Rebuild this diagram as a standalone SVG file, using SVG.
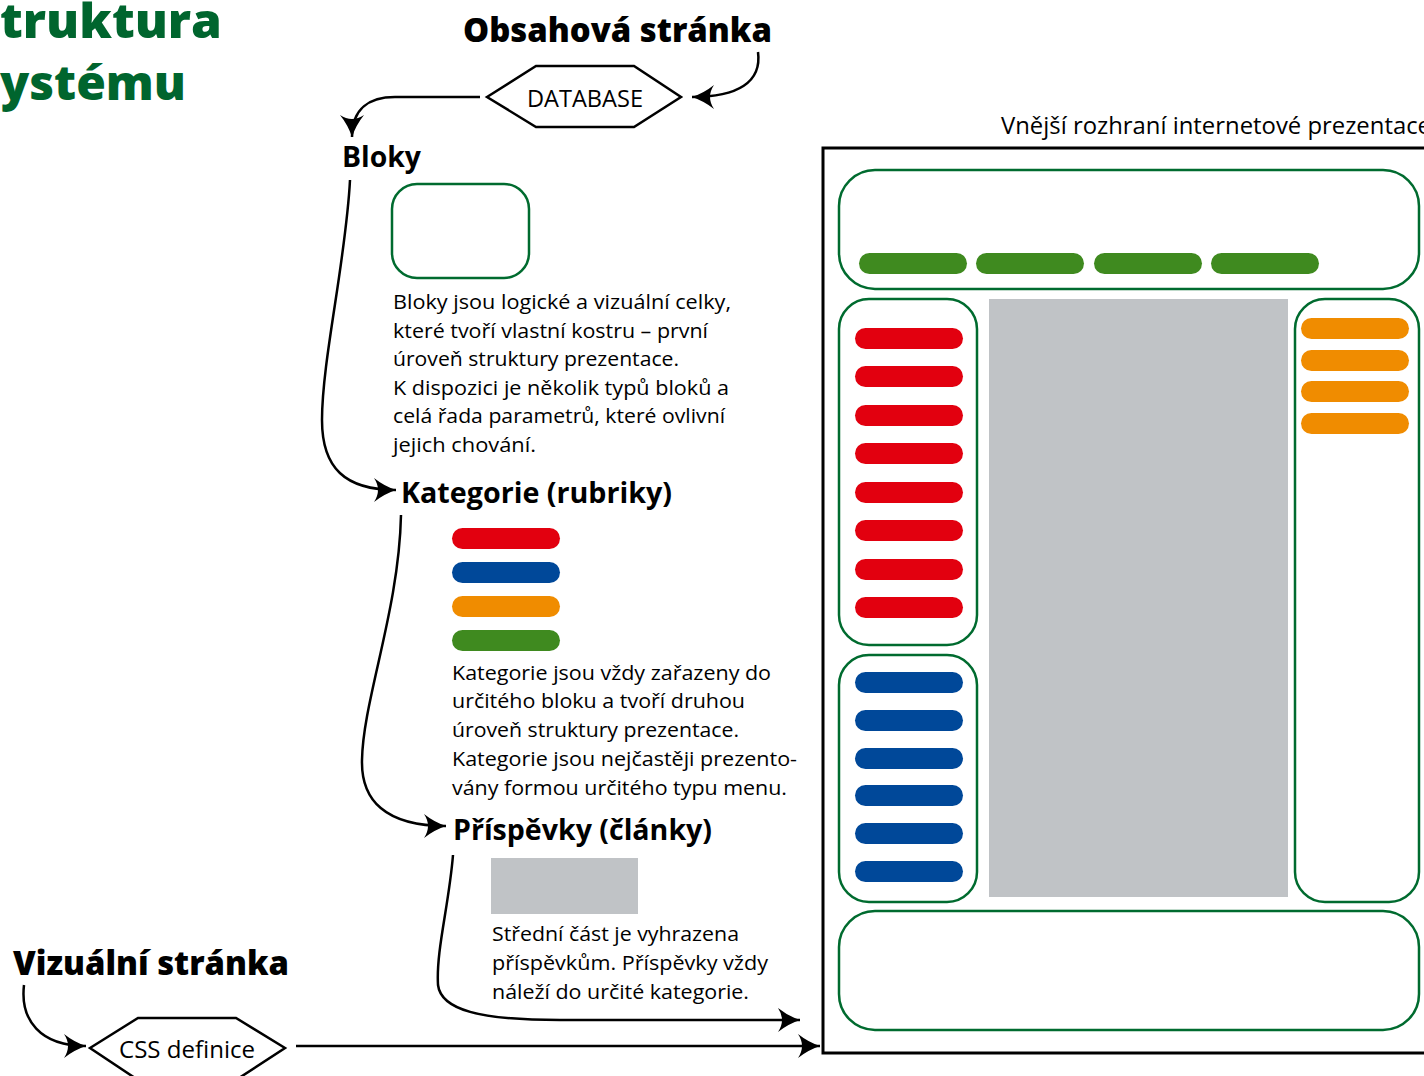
<svg xmlns="http://www.w3.org/2000/svg" width="1424" height="1076" viewBox="0 0 1424 1076">
<defs>
<style>
.title{font-family:"Open Sans","Noto Sans",sans-serif;font-weight:800;font-size:47px;fill:#00652e}
.h1{font-family:"Open Sans","Noto Sans",sans-serif;font-weight:800;font-size:34px;fill:#000}
.h2{font-family:"Open Sans","Noto Sans",sans-serif;font-weight:700;font-size:28px;fill:#000}
.body{font-family:"Open Sans","Noto Sans",sans-serif;font-size:20px;fill:#000}
.lbl{font-family:"Open Sans","Noto Sans",sans-serif;font-size:23px;fill:#000}
.conn{fill:none;stroke:#000;stroke-width:2.5}
.box{fill:#fff;stroke:#006b2f;stroke-width:2.5}
.hex{fill:#fff;stroke:#000;stroke-width:2.5}
.red{fill:#e2000f}.blue{fill:#004899}.orange{fill:#f08c00}.green{fill:#3f8a1f}.gray{fill:#c0c3c6}
</style>
<marker id="ah" markerUnits="userSpaceOnUse" markerWidth="26" markerHeight="28" viewBox="-2 -14 26 28" refX="22" refY="0" orient="auto">
<path d="M0,-12 Q10,-4 22,0 Q10,4 0,12 Q8,0 0,-12 Z" fill="#000"/>
</marker>
</defs>

<g id="title">
<text class="title" x="0" y="38" textLength="222" lengthAdjust="spacingAndGlyphs">truktura</text>
<text class="title" x="0" y="100" textLength="186" lengthAdjust="spacingAndGlyphs">ystému</text>
</g>

<g id="obsahova">
<text class="h1" x="463" y="42" textLength="309" lengthAdjust="spacingAndGlyphs">Obsahová stránka</text>
</g>

<g id="database">
<polygon class="hex" points="487,97 536,66 634,66 681,97 634,127 536,127"/>
<text class="lbl" x="527" y="107" textLength="116" lengthAdjust="spacingAndGlyphs">DATABASE</text>
</g>

<g id="bloky">
<text class="h2" x="342" y="167" textLength="79" lengthAdjust="spacingAndGlyphs">Bloky</text>
<rect class="box" x="392" y="184" width="137" height="94" rx="25"/>
<text class="body" x="393" y="309" textLength="338" lengthAdjust="spacingAndGlyphs">Bloky jsou logické a vizuální celky,</text>
<text class="body" x="393" y="338" textLength="315" lengthAdjust="spacingAndGlyphs">které tvoří vlastní kostru – první</text>
<text class="body" x="393" y="366" textLength="286" lengthAdjust="spacingAndGlyphs">úroveň struktury prezentace.</text>
<text class="body" x="393" y="395" textLength="336" lengthAdjust="spacingAndGlyphs">K dispozici je několik typů bloků a</text>
<text class="body" x="393" y="423" textLength="332" lengthAdjust="spacingAndGlyphs">celá řada parametrů, které ovlivní</text>
<text class="body" x="393" y="452" textLength="143" lengthAdjust="spacingAndGlyphs">jejich chování.</text>
</g>

<g id="kategorie">
<text class="h2" x="401" y="503" textLength="271" lengthAdjust="spacingAndGlyphs">Kategorie (rubriky)</text>
<rect class="red" x="452" y="528" width="108" height="21" rx="10.5"/>
<rect class="blue" x="452" y="562" width="108" height="21" rx="10.5"/>
<rect class="orange" x="452" y="596" width="108" height="21" rx="10.5"/>
<rect class="green" x="452" y="630" width="108" height="21" rx="10.5"/>
<text class="body" x="452" y="680" textLength="319" lengthAdjust="spacingAndGlyphs">Kategorie jsou vždy zařazeny do</text>
<text class="body" x="452" y="708" textLength="293" lengthAdjust="spacingAndGlyphs">určitého bloku a tvoří druhou</text>
<text class="body" x="452" y="737" textLength="287" lengthAdjust="spacingAndGlyphs">úroveň struktury prezentace.</text>
<text class="body" x="452" y="766" textLength="345" lengthAdjust="spacingAndGlyphs">Kategorie jsou nejčastěji prezento-</text>
<text class="body" x="452" y="795" textLength="335" lengthAdjust="spacingAndGlyphs">vány formou určitého typu menu.</text>
</g>

<g id="prispevky">
<text class="h2" x="453" y="840" textLength="259" lengthAdjust="spacingAndGlyphs">Příspěvky (články)</text>
<rect class="gray" x="491" y="858" width="147" height="56"/>
<text class="body" x="492" y="941" textLength="247" lengthAdjust="spacingAndGlyphs">Střední část je vyhrazena</text>
<text class="body" x="492" y="970" textLength="276" lengthAdjust="spacingAndGlyphs">příspěvkům. Příspěvky vždy</text>
<text class="body" x="492" y="999" textLength="257" lengthAdjust="spacingAndGlyphs">náleží do určité kategorie.</text>
</g>

<g id="vizualni">
<text class="h1" x="13" y="975" textLength="276" lengthAdjust="spacingAndGlyphs">Vizuální stránka</text>
</g>

<g id="css">
<polygon class="hex" points="90,1048 138,1018 236,1018 285,1048 236,1080 138,1080"/>
<text class="lbl" x="119" y="1058" textLength="136" lengthAdjust="spacingAndGlyphs">CSS definice</text>
</g>

<g id="rozhrani">
<text class="lbl" x="1001" y="134" font-size="22" textLength="430" lengthAdjust="spacingAndGlyphs">Vnější rozhraní internetové prezentace</text>
<rect x="823" y="148" width="700" height="905" fill="#fff" stroke="#000" stroke-width="3"/>
<rect class="box" x="839" y="170" width="580" height="119" rx="36"/>
<rect class="green" x="859" y="253" width="108" height="21" rx="10.5"/>
<rect class="green" x="976" y="253" width="108" height="21" rx="10.5"/>
<rect class="green" x="1094" y="253" width="108" height="21" rx="10.5"/>
<rect class="green" x="1211" y="253" width="108" height="21" rx="10.5"/>
<rect class="box" x="839" y="299" width="138" height="346" rx="30"/>
<rect class="red" x="855" y="328" width="108" height="21" rx="10.5"/>
<rect class="red" x="855" y="366" width="108" height="21" rx="10.5"/>
<rect class="red" x="855" y="405" width="108" height="21" rx="10.5"/>
<rect class="red" x="855" y="443" width="108" height="21" rx="10.5"/>
<rect class="red" x="855" y="482" width="108" height="21" rx="10.5"/>
<rect class="red" x="855" y="520" width="108" height="21" rx="10.5"/>
<rect class="red" x="855" y="559" width="108" height="21" rx="10.5"/>
<rect class="red" x="855" y="597" width="108" height="21" rx="10.5"/>
<rect class="box" x="839" y="655" width="138" height="247" rx="30"/>
<rect class="blue" x="855" y="672" width="108" height="21" rx="10.5"/>
<rect class="blue" x="855" y="710" width="108" height="21" rx="10.5"/>
<rect class="blue" x="855" y="748" width="108" height="21" rx="10.5"/>
<rect class="blue" x="855" y="785" width="108" height="21" rx="10.5"/>
<rect class="blue" x="855" y="823" width="108" height="21" rx="10.5"/>
<rect class="blue" x="855" y="861" width="108" height="21" rx="10.5"/>
<rect class="gray" x="989" y="299" width="299" height="598"/>
<rect class="box" x="1295" y="299" width="124" height="603" rx="30"/>
<rect class="orange" x="1301" y="318" width="108" height="21" rx="10.5"/>
<rect class="orange" x="1301" y="350" width="108" height="21" rx="10.5"/>
<rect class="orange" x="1301" y="381" width="108" height="21" rx="10.5"/>
<rect class="orange" x="1301" y="413" width="108" height="21" rx="10.5"/>
<rect class="box" x="839" y="911" width="580" height="119" rx="36"/>
</g>

<g id="connectors">
<path class="conn" marker-end="url(#ah)" d="M758,52 C762,82 738,97 692,97"/>
<path class="conn" marker-end="url(#ah)" d="M480,97 L395,97 C370,97 352,108 352,137"/>
<path class="conn" marker-end="url(#ah)" d="M350,180 C346,260 322,360 322,420 C322,468 345,490 396,490"/>
<path class="conn" marker-end="url(#ah)" d="M401,515 C399,610 363,700 362,760 C361,800 385,826 446,826"/>
<path class="conn" marker-end="url(#ah)" d="M453,855 C449,905 436,950 438,985 C441,1010 480,1020 560,1020 L800,1020"/>
<path class="conn" marker-end="url(#ah)" d="M24,985 C20,1020 40,1046 86,1046"/>
<path class="conn" marker-end="url(#ah)" d="M296,1046 L820,1046"/>
</g>
</svg>
